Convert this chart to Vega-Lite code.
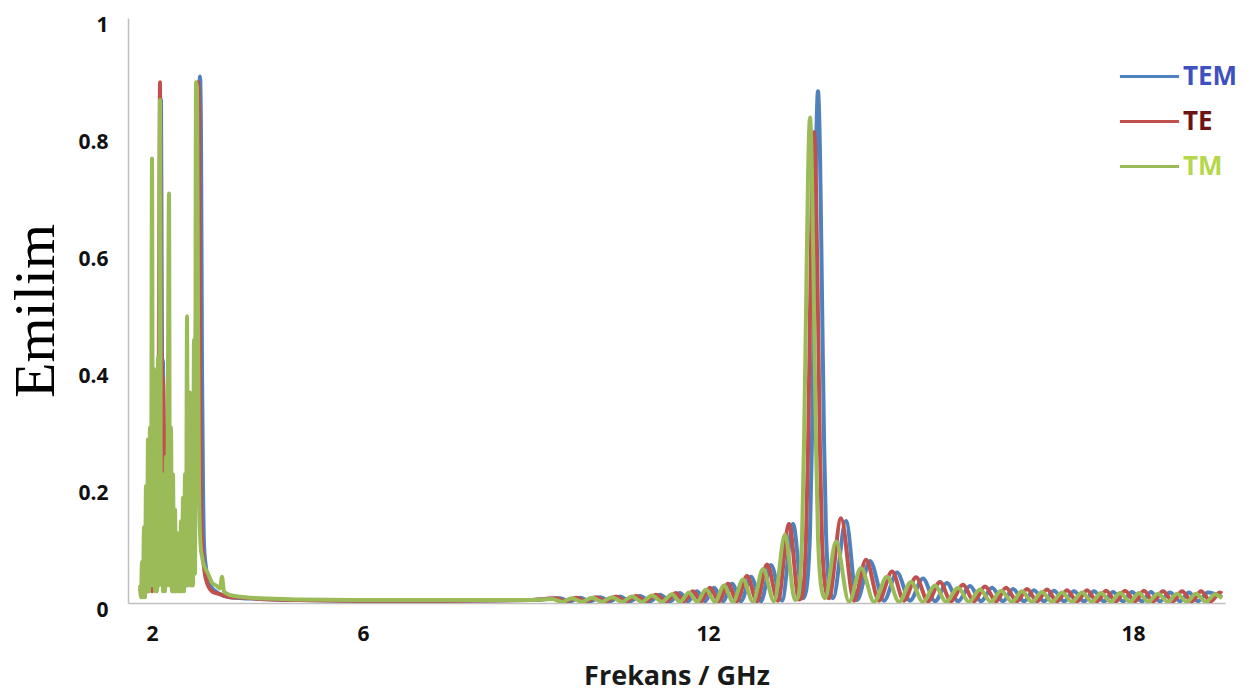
{
"$schema": "https://vega.github.io/schema/vega-lite/v6.json",
"width": 1097, "height": 585,
"autosize": "none",
"padding": {"left": 128, "top": 18, "right": 28, "bottom": 90},
"background": "white",
"config": {"view": {"stroke": null}},
"datasets": {"rows": [
{"s":"TEM","f":1.773,"e":0.02},{"s":"TEM","f":1.886,"e":0.03},{"s":"TEM","f":1.962,"e":0.05},{"s":"TEM","f":2.057,"e":0.1},{"s":"TEM","f":2.114,"e":0.3},{"s":"TEM","f":2.152,"e":0.5},{"s":"TEM","f":2.171,"e":0.86},{"s":"TEM","f":2.19,"e":0.42},{"s":"TEM","f":2.209,"e":0.41},{"s":"TEM","f":2.227,"e":0.2},{"s":"TEM","f":2.265,"e":0.05},{"s":"TEM","f":2.341,"e":0.08},{"s":"TEM","f":2.436,"e":0.03},{"s":"TEM","f":2.531,"e":0.04},{"s":"TEM","f":2.626,"e":0.03},{"s":"TEM","f":2.72,"e":0.1},{"s":"TEM","f":2.796,"e":0.2},{"s":"TEM","f":2.853,"e":0.5},{"s":"TEM","f":2.891,"e":0.85},{"s":"TEM","f":2.91,"e":0.9},{"s":"TEM","f":2.929,"e":0.8},{"s":"TEM","f":2.948,"e":0.4},{"s":"TEM","f":2.967,"e":0.2},{"s":"TEM","f":2.986,"e":0.1},{"s":"TEM","f":3.024,"e":0.06},{"s":"TEM","f":3.1,"e":0.03},{"s":"TEM","f":3.289,"e":0.015},{"s":"TEM","f":3.479,"e":0.01},{"s":"TEM","f":4.047,"e":0.007},{"s":"TEM","f":4.806,"e":0.005},{"s":"TEM","f":6.0,"e":0.004},{"s":"TEM","f":7.513,"e":0.004},{"s":"TEM","f":8.904,"e":0.005},
{"s":"TEM","f":9.426,"e":0.008},{"s":"TEM","f":9.6,"e":0.003},{"s":"TEM","f":9.774,"e":0.009},{"s":"TEM","f":9.948,"e":0.003},{"s":"TEM","f":10.122,"e":0.01},{"s":"TEM","f":10.296,"e":0.003},{"s":"TEM","f":10.47,"e":0.011},{"s":"TEM","f":10.643,"e":0.003},{"s":"TEM","f":10.817,"e":0.012},{"s":"TEM","f":10.991,"e":0.003},{"s":"TEM","f":11.165,"e":0.014},{"s":"TEM","f":11.339,"e":0.003},{"s":"TEM","f":11.513,"e":0.017},{"s":"TEM","f":11.652,"e":0.003},{"s":"TEM","f":11.809,"e":0.02},{"s":"TEM","f":11.948,"e":0.003},{"s":"TEM","f":12.085,"e":0.026},{"s":"TEM","f":12.212,"e":0.003},{"s":"TEM","f":12.339,"e":0.033},{"s":"TEM","f":12.466,"e":0.003},{"s":"TEM","f":12.607,"e":0.045},{"s":"TEM","f":12.748,"e":0.003},{"s":"TEM","f":12.889,"e":0.065},{"s":"TEM","f":13.045,"e":0.004},{"s":"TEM","f":13.2,"e":0.135},{"s":"TEM","f":13.341,"e":0.008},{"s":"TEM","f":13.384,"e":0.02},{"s":"TEM","f":13.44,"e":0.12},{"s":"TEM","f":13.468,"e":0.28},{"s":"TEM","f":13.497,"e":0.53},{"s":"TEM","f":13.525,"e":0.77},{"s":"TEM","f":13.553,"e":0.875},{"s":"TEM","f":13.581,"e":0.77},{"s":"TEM","f":13.609,"e":0.53},{"s":"TEM","f":13.638,"e":0.28},{"s":"TEM","f":13.666,"e":0.12},{"s":"TEM","f":13.722,"e":0.02},{"s":"TEM","f":13.765,"e":0.008},{"s":"TEM","f":13.948,"e":0.14},{"s":"TEM","f":14.104,"e":0.005},{"s":"TEM","f":14.287,"e":0.072},{"s":"TEM","f":14.485,"e":0.004},{"s":"TEM","f":14.668,"e":0.052},{"s":"TEM","f":14.852,"e":0.004},{"s":"TEM","f":15.035,"e":0.042},{"s":"TEM","f":15.205,"e":0.003},{"s":"TEM","f":15.374,"e":0.034},{"s":"TEM","f":15.53,"e":0.003},{"s":"TEM","f":15.699,"e":0.029},{"s":"TEM","f":15.854,"e":0.003},{"s":"TEM","f":16.01,"e":0.026},{"s":"TEM","f":16.165,"e":0.003},{"s":"TEM","f":16.306,"e":0.024},{"s":"TEM","f":16.461,"e":0.003},{"s":"TEM","f":16.602,"e":0.022},{"s":"TEM","f":16.744,"e":0.003},{"s":"TEM","f":16.885,"e":0.021},{"s":"TEM","f":17.026,"e":0.003},{"s":"TEM","f":17.167,"e":0.02},{"s":"TEM","f":17.308,"e":0.003},{"s":"TEM","f":17.45,"e":0.02},{"s":"TEM","f":17.591,"e":0.003},{"s":"TEM","f":17.718,"e":0.019},{"s":"TEM","f":17.859,"e":0.003},{"s":"TEM","f":17.986,"e":0.019},{"s":"TEM","f":18.127,"e":0.003},{"s":"TEM","f":18.254,"e":0.019},{"s":"TEM","f":18.381,"e":0.003},{"s":"TEM","f":18.523,"e":0.018},{"s":"TEM","f":18.664,"e":0.003},{"s":"TEM","f":18.791,"e":0.018},{"s":"TEM","f":18.918,"e":0.003},{"s":"TEM","f":19.059,"e":0.018},{"s":"TEM","f":19.257,"e":0.01},
{"s":"TE","f":1.773,"e":0.02},{"s":"TE","f":1.867,"e":0.04},{"s":"TE","f":1.924,"e":0.02},{"s":"TE","f":1.962,"e":0.05},{"s":"TE","f":2.0,"e":0.02},{"s":"TE","f":2.057,"e":0.1},{"s":"TE","f":2.114,"e":0.2},{"s":"TE","f":2.133,"e":0.5},{"s":"TE","f":2.152,"e":0.89},{"s":"TE","f":2.171,"e":0.5},{"s":"TE","f":2.19,"e":0.39},{"s":"TE","f":2.209,"e":0.38},{"s":"TE","f":2.227,"e":0.29},{"s":"TE","f":2.246,"e":0.1},{"s":"TE","f":2.284,"e":0.04},{"s":"TE","f":2.341,"e":0.1},{"s":"TE","f":2.398,"e":0.02},{"s":"TE","f":2.455,"e":0.06},{"s":"TE","f":2.531,"e":0.02},{"s":"TE","f":2.588,"e":0.05},{"s":"TE","f":2.626,"e":0.03},{"s":"TE","f":2.682,"e":0.08},{"s":"TE","f":2.758,"e":0.15},{"s":"TE","f":2.815,"e":0.3},{"s":"TE","f":2.853,"e":0.7},{"s":"TE","f":2.872,"e":0.89},{"s":"TE","f":2.891,"e":0.85},{"s":"TE","f":2.91,"e":0.4},{"s":"TE","f":2.929,"e":0.15},{"s":"TE","f":2.967,"e":0.08},{"s":"TE","f":3.024,"e":0.04},{"s":"TE","f":3.137,"e":0.02},{"s":"TE","f":3.289,"e":0.015},{"s":"TE","f":3.479,"e":0.01},{"s":"TE","f":3.763,"e":0.009},{"s":"TE","f":4.047,"e":0.007},{"s":"TE","f":4.806,"e":0.005},{"s":"TE","f":6.0,"e":0.004},{"s":"TE","f":7.513,"e":0.004},{"s":"TE","f":8.904,"e":0.005},
{"s":"TE","f":9.357,"e":0.008},{"s":"TE","f":9.53,"e":0.003},{"s":"TE","f":9.704,"e":0.009},{"s":"TE","f":9.878,"e":0.003},{"s":"TE","f":10.052,"e":0.01},{"s":"TE","f":10.226,"e":0.003},{"s":"TE","f":10.4,"e":0.011},{"s":"TE","f":10.574,"e":0.003},{"s":"TE","f":10.748,"e":0.012},{"s":"TE","f":10.922,"e":0.003},{"s":"TE","f":11.096,"e":0.014},{"s":"TE","f":11.27,"e":0.003},{"s":"TE","f":11.443,"e":0.017},{"s":"TE","f":11.583,"e":0.003},{"s":"TE","f":11.739,"e":0.02},{"s":"TE","f":11.878,"e":0.003},{"s":"TE","f":12.028,"e":0.026},{"s":"TE","f":12.155,"e":0.003},{"s":"TE","f":12.282,"e":0.033},{"s":"TE","f":12.409,"e":0.003},{"s":"TE","f":12.551,"e":0.046},{"s":"TE","f":12.692,"e":0.003},{"s":"TE","f":12.833,"e":0.066},{"s":"TE","f":12.988,"e":0.004},{"s":"TE","f":13.144,"e":0.135},{"s":"TE","f":13.285,"e":0.006},{"s":"TE","f":13.327,"e":0.01},{"s":"TE","f":13.384,"e":0.11},{"s":"TE","f":13.412,"e":0.26},{"s":"TE","f":13.44,"e":0.49},{"s":"TE","f":13.468,"e":0.71},{"s":"TE","f":13.497,"e":0.805},{"s":"TE","f":13.525,"e":0.71},{"s":"TE","f":13.553,"e":0.49},{"s":"TE","f":13.581,"e":0.26},{"s":"TE","f":13.609,"e":0.11},{"s":"TE","f":13.666,"e":0.02},{"s":"TE","f":13.708,"e":0.008},{"s":"TE","f":13.878,"e":0.145},{"s":"TE","f":14.061,"e":0.004},{"s":"TE","f":14.231,"e":0.074},{"s":"TE","f":14.414,"e":0.004},{"s":"TE","f":14.598,"e":0.054},{"s":"TE","f":14.767,"e":0.004},{"s":"TE","f":14.937,"e":0.044},{"s":"TE","f":15.106,"e":0.003},{"s":"TE","f":15.275,"e":0.036},{"s":"TE","f":15.431,"e":0.003},{"s":"TE","f":15.6,"e":0.031},{"s":"TE","f":15.755,"e":0.003},{"s":"TE","f":15.911,"e":0.028},{"s":"TE","f":16.066,"e":0.003},{"s":"TE","f":16.207,"e":0.026},{"s":"TE","f":16.362,"e":0.003},{"s":"TE","f":16.504,"e":0.024},{"s":"TE","f":16.645,"e":0.003},{"s":"TE","f":16.786,"e":0.023},{"s":"TE","f":16.927,"e":0.003},{"s":"TE","f":17.068,"e":0.022},{"s":"TE","f":17.21,"e":0.003},{"s":"TE","f":17.351,"e":0.022},{"s":"TE","f":17.492,"e":0.003},{"s":"TE","f":17.619,"e":0.021},{"s":"TE","f":17.76,"e":0.003},{"s":"TE","f":17.887,"e":0.021},{"s":"TE","f":18.028,"e":0.003},{"s":"TE","f":18.155,"e":0.021},{"s":"TE","f":18.283,"e":0.003},{"s":"TE","f":18.424,"e":0.02},{"s":"TE","f":18.565,"e":0.003},{"s":"TE","f":18.692,"e":0.02},{"s":"TE","f":18.833,"e":0.003},{"s":"TE","f":18.96,"e":0.02},{"s":"TE","f":19.101,"e":0.003},{"s":"TE","f":19.228,"e":0.018},{"s":"TE","f":19.257,"e":0.016},
{"s":"TM","f":1.773,"e":0.03},{"s":"TM","f":1.791,"e":0.01},{"s":"TM","f":1.81,"e":0.07},{"s":"TM","f":1.829,"e":0.01},{"s":"TM","f":1.848,"e":0.13},{"s":"TM","f":1.867,"e":0.01},{"s":"TM","f":1.886,"e":0.2},{"s":"TM","f":1.905,"e":0.02},{"s":"TM","f":1.924,"e":0.28},{"s":"TM","f":1.943,"e":0.02},{"s":"TM","f":1.962,"e":0.3},{"s":"TM","f":1.981,"e":0.03},{"s":"TM","f":2.0,"e":0.76},{"s":"TM","f":2.019,"e":0.03},{"s":"TM","f":2.038,"e":0.4},{"s":"TM","f":2.057,"e":0.02},{"s":"TM","f":2.076,"e":0.38},{"s":"TM","f":2.095,"e":0.02},{"s":"TM","f":2.114,"e":0.42},{"s":"TM","f":2.133,"e":0.03},{"s":"TM","f":2.152,"e":0.86},{"s":"TM","f":2.171,"e":0.04},{"s":"TM","f":2.19,"e":0.2},{"s":"TM","f":2.209,"e":0.02},{"s":"TM","f":2.227,"e":0.22},{"s":"TM","f":2.246,"e":0.02},{"s":"TM","f":2.265,"e":0.25},{"s":"TM","f":2.284,"e":0.03},{"s":"TM","f":2.303,"e":0.4},{"s":"TM","f":2.322,"e":0.7},{"s":"TM","f":2.341,"e":0.03},{"s":"TM","f":2.36,"e":0.3},{"s":"TM","f":2.379,"e":0.02},{"s":"TM","f":2.398,"e":0.22},{"s":"TM","f":2.417,"e":0.02},{"s":"TM","f":2.436,"e":0.16},{"s":"TM","f":2.455,"e":0.02},{"s":"TM","f":2.474,"e":0.12},{"s":"TM","f":2.493,"e":0.02},{"s":"TM","f":2.512,"e":0.11},{"s":"TM","f":2.531,"e":0.02},{"s":"TM","f":2.55,"e":0.14},{"s":"TM","f":2.569,"e":0.02},{"s":"TM","f":2.588,"e":0.18},{"s":"TM","f":2.607,"e":0.02},{"s":"TM","f":2.626,"e":0.22},{"s":"TM","f":2.645,"e":0.03},{"s":"TM","f":2.664,"e":0.49},{"s":"TM","f":2.682,"e":0.03},{"s":"TM","f":2.701,"e":0.26},{"s":"TM","f":2.72,"e":0.36},{"s":"TM","f":2.739,"e":0.03},{"s":"TM","f":2.758,"e":0.3},{"s":"TM","f":2.777,"e":0.03},{"s":"TM","f":2.796,"e":0.45},{"s":"TM","f":2.815,"e":0.05},{"s":"TM","f":2.834,"e":0.89},{"s":"TM","f":2.853,"e":0.88},{"s":"TM","f":2.872,"e":0.5},{"s":"TM","f":2.891,"e":0.2},{"s":"TM","f":2.91,"e":0.12},{"s":"TM","f":2.929,"e":0.09},{"s":"TM","f":2.948,"e":0.08},{"s":"TM","f":2.967,"e":0.07},{"s":"TM","f":3.005,"e":0.06},{"s":"TM","f":3.062,"e":0.05},{"s":"TM","f":3.137,"e":0.035},{"s":"TM","f":3.213,"e":0.03},{"s":"TM","f":3.289,"e":0.025},{"s":"TM","f":3.327,"e":0.045},{"s":"TM","f":3.365,"e":0.02},{"s":"TM","f":3.441,"e":0.015},{"s":"TM","f":3.573,"e":0.012},{"s":"TM","f":3.763,"e":0.01},{"s":"TM","f":4.047,"e":0.008},{"s":"TM","f":4.806,"e":0.006},{"s":"TM","f":6.0,"e":0.005},{"s":"TM","f":7.513,"e":0.005},{"s":"TM","f":8.904,"e":0.005},
{"s":"TM","f":9.287,"e":0.007},{"s":"TM","f":9.461,"e":0.002},{"s":"TM","f":9.635,"e":0.008},{"s":"TM","f":9.809,"e":0.002},{"s":"TM","f":9.983,"e":0.009},{"s":"TM","f":10.157,"e":0.002},{"s":"TM","f":10.33,"e":0.01},{"s":"TM","f":10.504,"e":0.002},{"s":"TM","f":10.678,"e":0.011},{"s":"TM","f":10.852,"e":0.002},{"s":"TM","f":11.026,"e":0.013},{"s":"TM","f":11.2,"e":0.002},{"s":"TM","f":11.374,"e":0.015},{"s":"TM","f":11.513,"e":0.002},{"s":"TM","f":11.67,"e":0.018},{"s":"TM","f":11.809,"e":0.002},{"s":"TM","f":11.965,"e":0.023},{"s":"TM","f":12.099,"e":0.002},{"s":"TM","f":12.226,"e":0.03},{"s":"TM","f":12.353,"e":0.002},{"s":"TM","f":12.494,"e":0.04},{"s":"TM","f":12.635,"e":0.002},{"s":"TM","f":12.776,"e":0.058},{"s":"TM","f":12.932,"e":0.003},{"s":"TM","f":13.087,"e":0.117},{"s":"TM","f":13.228,"e":0.005},{"s":"TM","f":13.271,"e":0.01},{"s":"TM","f":13.327,"e":0.11},{"s":"TM","f":13.355,"e":0.27},{"s":"TM","f":13.384,"e":0.5},{"s":"TM","f":13.412,"e":0.73},{"s":"TM","f":13.44,"e":0.83},{"s":"TM","f":13.468,"e":0.73},{"s":"TM","f":13.497,"e":0.5},{"s":"TM","f":13.525,"e":0.27},{"s":"TM","f":13.553,"e":0.11},{"s":"TM","f":13.609,"e":0.02},{"s":"TM","f":13.652,"e":0.008},{"s":"TM","f":13.807,"e":0.105},{"s":"TM","f":13.991,"e":0.002},{"s":"TM","f":14.16,"e":0.06},{"s":"TM","f":14.344,"e":0.002},{"s":"TM","f":14.527,"e":0.045},{"s":"TM","f":14.697,"e":0.002},{"s":"TM","f":14.866,"e":0.036},{"s":"TM","f":15.035,"e":0.002},{"s":"TM","f":15.205,"e":0.03},{"s":"TM","f":15.36,"e":0.002},{"s":"TM","f":15.53,"e":0.026},{"s":"TM","f":15.685,"e":0.002},{"s":"TM","f":15.84,"e":0.023},{"s":"TM","f":15.995,"e":0.002},{"s":"TM","f":16.137,"e":0.021},{"s":"TM","f":16.292,"e":0.002},{"s":"TM","f":16.433,"e":0.02},{"s":"TM","f":16.574,"e":0.002},{"s":"TM","f":16.715,"e":0.019},{"s":"TM","f":16.857,"e":0.002},{"s":"TM","f":16.998,"e":0.018},{"s":"TM","f":17.139,"e":0.002},{"s":"TM","f":17.28,"e":0.018},{"s":"TM","f":17.421,"e":0.002},{"s":"TM","f":17.548,"e":0.017},{"s":"TM","f":17.689,"e":0.002},{"s":"TM","f":17.817,"e":0.017},{"s":"TM","f":17.958,"e":0.002},{"s":"TM","f":18.085,"e":0.017},{"s":"TM","f":18.212,"e":0.002},{"s":"TM","f":18.353,"e":0.016},{"s":"TM","f":18.494,"e":0.002},{"s":"TM","f":18.621,"e":0.016},{"s":"TM","f":18.762,"e":0.002},{"s":"TM","f":18.889,"e":0.016},{"s":"TM","f":19.031,"e":0.002},{"s":"TM","f":19.158,"e":0.015},{"s":"TM","f":19.257,"e":0.008}
]},
"data": {"name": "rows"},
"encoding": {
  "x": {"field": "f", "type": "quantitative",
    "scale": {"type": "linear", "domain": [1.545, 2, 6, 12, 18, 19.3], "range": [0, 24, 235, 580, 1005, 1097], "nice": false, "zero": false},
    "axis": {"values": [2, 6, 12, 18], "title": "Frekans / GHz", "titleFont": "Open Sans", "titleFontSize": 27, "titleFontWeight": "bold", "titleColor": "#1a1a1a", "titlePadding": 19,
      "labelFont": "Open Sans", "labelFontSize": 21, "labelFontWeight": "bold", "labelColor": "#111111", "labelPadding": 20, "labelFlush": false,
      "ticks": false, "tickSize": 0, "grid": false, "domainColor": "#c0c0c0", "domainWidth": 1.5}},
  "y": {"field": "e", "type": "quantitative",
    "scale": {"domain": [0, 1], "nice": false, "zero": true},
    "axis": {"values": [0, 0.2, 0.4, 0.6, 0.8, 1], "format": "~g", "title": "Emilim", "titleFont": "Liberation Serif", "titleFontSize": 58, "titleFontWeight": "normal", "titleColor": "#000000", "titlePadding": 12,
      "labelFont": "Open Sans", "labelFontSize": 21, "labelFontWeight": "bold", "labelColor": "#111111", "labelPadding": 20, "labelOffset": 7,
      "ticks": false, "tickSize": 0, "grid": false, "domainColor": "#c0c0c0", "domainWidth": 1.5}},
  "color": {"field": "s", "type": "nominal",
    "scale": {"domain": ["TEM", "TE", "TM"], "range": ["#4f81bd", "#c0504d", "#9bbb59"]},
    "legend": {"title": null, "orient": "none", "legendX": 990, "legendY": 27, "symbolType": "stroke", "symbolSize": 3500, "symbolStrokeWidth": 3,
      "labelFont": "Open Sans", "labelFontSize": 26, "labelFontWeight": "bold", "labelOffset": 2, "rowPadding": -25, "padding": 0,
      "encode": {"labels": {"update": {"fill": {"signal": "datum.label === 'TEM' ? '#3f51c0' : datum.label === 'TE' ? '#6e1414' : '#b4d84a'"}}}}}}
},
"layer": [
  {"transform": [{"filter": "datum.s === 'TEM'"}], "mark": {"type": "line", "strokeWidth": 4, "interpolate": "monotone", "strokeJoin": "round", "clip": true}},
  {"transform": [{"filter": "datum.s === 'TE'"}], "mark": {"type": "line", "strokeWidth": 4, "interpolate": "monotone", "strokeJoin": "round", "clip": true}},
  {"transform": [{"filter": "datum.s === 'TM'"}], "mark": {"type": "line", "strokeWidth": 4, "interpolate": "monotone", "strokeJoin": "round", "clip": true}}
]
}
